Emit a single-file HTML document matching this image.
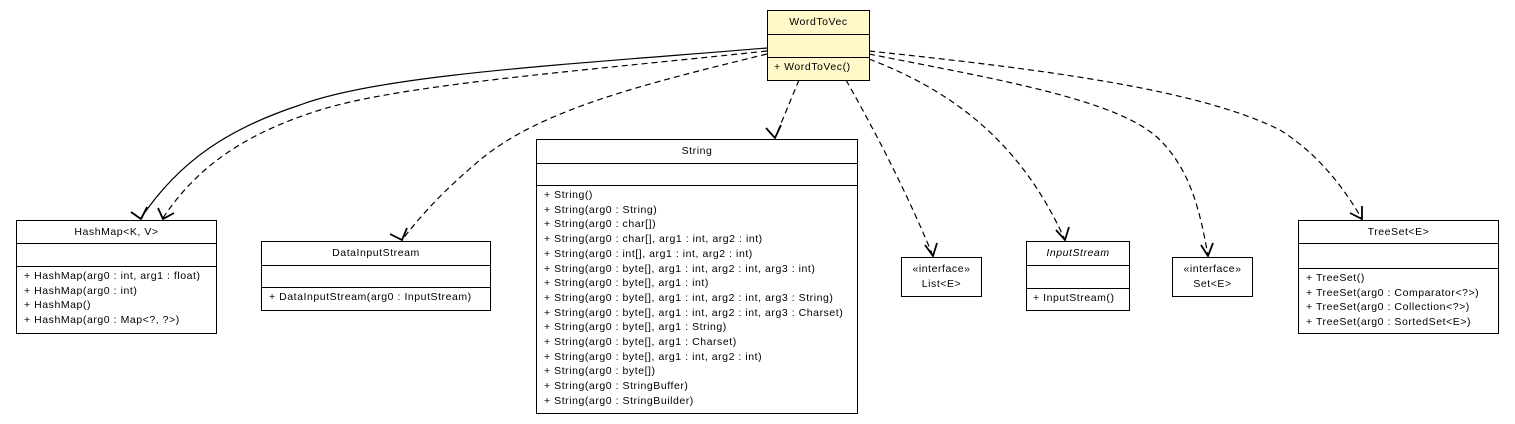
<!DOCTYPE html>
<html><head><meta charset="utf-8"><style>
html,body{margin:0;padding:0;background:#fff;}
body{width:1515px;height:424px;position:relative;overflow:hidden;font-family:"Liberation Sans",Arial,sans-serif;font-size:10.5px;letter-spacing:0.55px;color:#000;}
.b{position:absolute;border:1px solid #000;background:#fff;box-sizing:border-box;}
.h{text-align:center;border-bottom:1px solid #000;box-sizing:border-box;line-height:22px;}
.a{border-bottom:1px solid #000;box-sizing:border-box;}
.m{padding:2px 0 0 7px;line-height:14.7px;white-space:nowrap;}
.i{text-align:center;line-height:15px;padding-top:4px;}
svg{position:absolute;left:0;top:0;}
</style></head><body>
<svg width="1515" height="424" fill="none" stroke="#000" stroke-width="1.2">
<path d="M767,48 C560,65 380,75 300,105 C230,128 180,160 141,218"/>
<path d="M767,51 C570,72 400,85 320,110 C240,135 195,170 163,218" stroke-dasharray="6,4"/>
<path d="M767,54 C640,85 540,110 480,160 C450,185 425,210 402,240" stroke-dasharray="6,4"/>
<path d="M799,80 L775,138" stroke-dasharray="6,4"/>
<path d="M846,80 C880,140 910,200 933,256" stroke-dasharray="6,4"/>
<path d="M869,59 C950,90 1020,140 1065,240" stroke-dasharray="6,4"/>
<path d="M869,54 C1000,80 1120,100 1160,140 C1190,170 1200,210 1208,256" stroke-dasharray="6,4"/>
<path d="M869,51 C1050,70 1200,90 1280,130 C1320,155 1345,190 1362,219" stroke-dasharray="6,4"/>
<g stroke-width="1.8">
<path d="M131,212 L141,219 L147,207"/>
<path d="M158,208 L163,219 L174,213"/>
<path d="M390,234 L402,240 L407,228"/>
<path d="M766,128 L775,138 L781,125"/>
<path d="M925,245 L933,256 L937,243"/>
<path d="M1056,230 L1065,240 L1069,227"/>
<path d="M1201,245 L1208,256 L1213,243"/>
<path d="M1350,213 L1362,219 L1362,206"/>
</g>
</svg>

<div class="b" style="left:767px;top:10px;width:103px;height:71px;background:#fff8c9;">
<div class="h" style="height:24px;">WordToVec</div>
<div class="a" style="height:23px;"></div>
<div class="m" style="padding-left:6px;">+ WordToVec()</div>
</div>

<div class="b" style="left:16px;top:220px;width:201px;height:114px;">
<div class="h" style="height:23px;">HashMap&lt;K, V&gt;</div>
<div class="a" style="height:23px;"></div>
<div class="m">+ HashMap(arg0 : int, arg1 : float)<br>+ HashMap(arg0 : int)<br>+ HashMap()<br>+ HashMap(arg0 : Map&lt;?, ?&gt;)</div>
</div>

<div class="b" style="left:261px;top:241px;width:230px;height:70px;">
<div class="h" style="height:24px;">DataInputStream</div>
<div class="a" style="height:22px;"></div>
<div class="m">+ DataInputStream(arg0 : InputStream)</div>
</div>

<div class="b" style="left:536px;top:139px;width:322px;height:275px;">
<div class="h" style="height:24px;">String</div>
<div class="a" style="height:22px;"></div>
<div class="m">+ String()<br>+ String(arg0 : String)<br>+ String(arg0 : char[])<br>+ String(arg0 : char[], arg1 : int, arg2 : int)<br>+ String(arg0 : int[], arg1 : int, arg2 : int)<br>+ String(arg0 : byte[], arg1 : int, arg2 : int, arg3 : int)<br>+ String(arg0 : byte[], arg1 : int)<br>+ String(arg0 : byte[], arg1 : int, arg2 : int, arg3 : String)<br>+ String(arg0 : byte[], arg1 : int, arg2 : int, arg3 : Charset)<br>+ String(arg0 : byte[], arg1 : String)<br>+ String(arg0 : byte[], arg1 : Charset)<br>+ String(arg0 : byte[], arg1 : int, arg2 : int)<br>+ String(arg0 : byte[])<br>+ String(arg0 : StringBuffer)<br>+ String(arg0 : StringBuilder)</div>
</div>

<div class="b" style="left:901px;top:257px;width:81px;height:40px;">
<div class="i">«interface»<br>List&lt;E&gt;</div>
</div>

<div class="b" style="left:1026px;top:241px;width:104px;height:70px;">
<div class="h" style="height:24px;font-style:italic;">InputStream</div>
<div class="a" style="height:23px;"></div>
<div class="m" style="padding-left:6px;">+ InputStream()</div>
</div>

<div class="b" style="left:1172px;top:257px;width:81px;height:40px;">
<div class="i">«interface»<br>Set&lt;E&gt;</div>
</div>

<div class="b" style="left:1298px;top:220px;width:201px;height:114px;">
<div class="h" style="height:23px;">TreeSet&lt;E&gt;</div>
<div class="a" style="height:25px;"></div>
<div class="m">+ TreeSet()<br>+ TreeSet(arg0 : Comparator&lt;?&gt;)<br>+ TreeSet(arg0 : Collection&lt;?&gt;)<br>+ TreeSet(arg0 : SortedSet&lt;E&gt;)</div>
</div>
</body></html>
